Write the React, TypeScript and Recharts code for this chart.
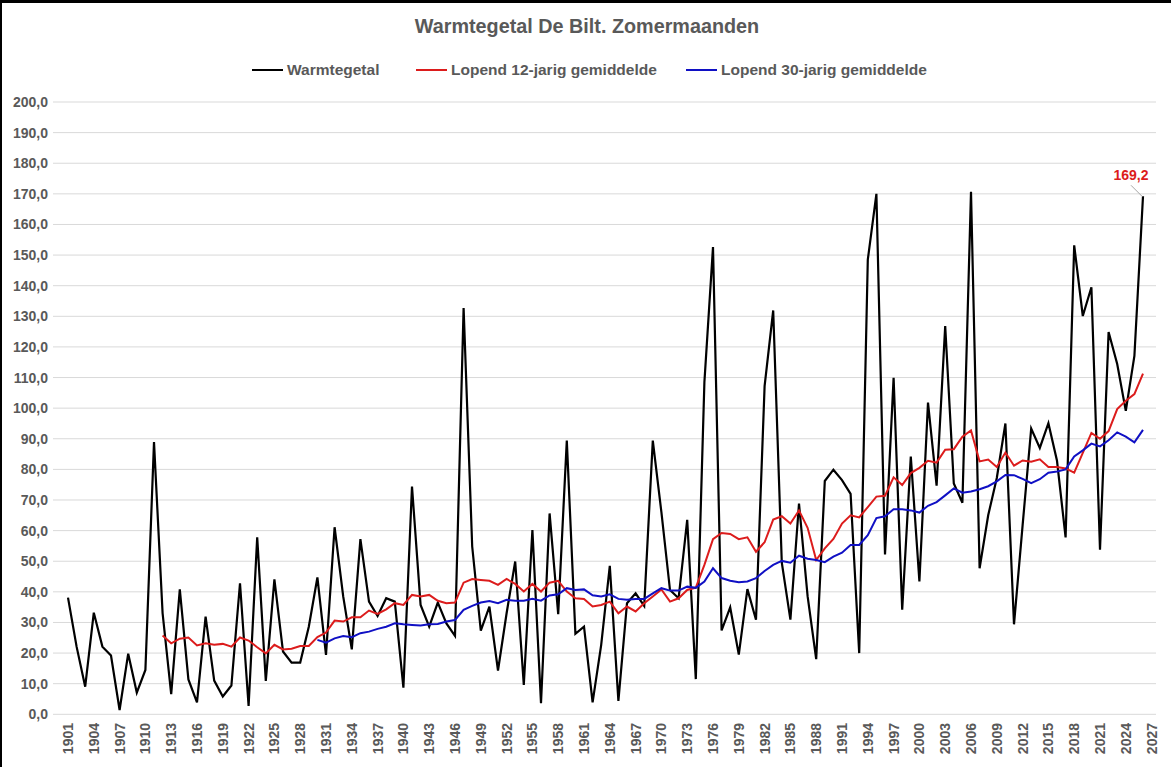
import React from 'react';
import { LineChart, Line, XAxis, YAxis, CartesianGrid, Legend, LabelList } from 'recharts';

const FONT = '"Liberation Sans", Arial, sans-serif';
const GREY = '#595959';
const BLACK = '#000000';
const RED = '#dc1c1c';
const BLUE = '#1010c4';

const FIRST_YEAR = 1901;
const LAST_YEAR = 2027;
const years: string[] = Array.from({ length: LAST_YEAR - FIRST_YEAR + 1 }, (_, i) => String(FIRST_YEAR + i));

// Warmtegetal 1901 - 2026
const warmtegetal: number[] = [
  38.1, 22.1, 9.0, 33.2, 22.1, 19.2, 1.4, 19.8, 7.1, 14.5,
  88.9, 33.0, 6.6, 40.8, 11.4, 3.9, 31.9, 11.0, 5.8, 9.4,
  42.8, 2.7, 57.8, 10.9, 44.1, 20.5, 16.9, 16.9, 28.6, 44.7,
  19.4, 61.1, 38.5, 21.2, 57.2, 36.8, 32.1, 37.9, 36.8, 8.7,
  74.4, 35.7, 28.6, 36.5, 29.7, 25.6, 132.7, 54.8, 27.3, 35.2,
  14.3, 33.0, 49.9, 9.6, 60.2, 3.6, 65.6, 32.7, 89.4, 26.3,
  28.6, 3.9, 22.7, 48.5, 4.4, 36.3, 39.5, 35.4, 89.4, 66.0,
  40.6, 37.9, 63.5, 11.5, 108.5, 152.6, 27.4, 34.9, 19.5, 40.9,
  30.9, 107.2, 131.9, 49.5, 30.9, 68.8, 38.6, 18.0, 76.2, 79.9,
  76.5, 72.0, 20.0, 148.5, 170.0, 52.2, 109.9, 34.2, 84.2, 43.4,
  101.8, 74.7, 126.8, 75.4, 69.1, 170.7, 47.7, 65.0, 77.2, 95.0,
  29.4, 61.7, 93.3, 87.0, 95.1, 82.8, 57.8, 153.2, 130.1, 139.5,
  53.8, 124.9, 114.4, 99.1, 117.1, 169.2,
];

// Lopend 12-jarig gemiddelde 1912 - 2026
const lopend12Start = 1912;
const lopend12: number[] = [
  25.7, 23.2, 24.7, 25.1, 22.5, 23.2, 22.7, 23.0, 22.1,
  25.1, 24.1, 21.9, 19.9, 22.7, 21.2, 21.4, 22.3, 22.3, 25.2,
  26.7, 30.6, 30.3, 31.7, 31.7, 33.9, 32.8, 34.3, 36.3, 35.7,
  39.0, 38.5, 39.0, 37.1, 36.3, 36.5, 43.0, 44.2, 43.9, 43.6,
  42.3, 44.2, 42.6, 40.1, 42.6, 40.1, 43.0, 43.6, 40.1, 37.9,
  37.7, 35.2, 35.7, 36.8, 33.0, 35.2, 33.6, 36.3, 38.5, 40.8,
  36.8, 37.9, 40.6, 41.4, 48.8, 57.2, 59.2, 58.9, 57.2, 57.8,
  53.1, 56.2, 63.6, 64.7, 62.3, 66.6, 60.9, 50.4, 54.2, 57.3,
  62.3, 65.0, 64.3, 67.7, 71.1, 71.4, 77.4, 74.9, 78.8, 80.5,
  82.8, 82.2, 86.4, 86.6, 90.7, 92.7, 82.6, 83.2, 80.8, 85.5,
  81.2, 82.9, 82.5, 83.3, 80.8, 80.8, 80.3, 78.9, 85.4, 91.9,
  90.0, 92.5, 99.7, 102.4, 104.6, 111.3,
];

// Lopend 30-jarig gemiddelde 1930 - 2026
const lopend30Start = 1930;
const lopend30: number[] = [
  24.3,
  23.4, 24.8, 25.6, 25.2, 26.5, 27.0, 27.9, 28.6, 29.7, 29.4,
  29.2, 29.0, 29.4, 29.5, 30.3, 30.8, 34.1, 35.4, 36.5, 37.0,
  36.3, 37.4, 37.1, 37.1, 37.7, 37.1, 38.8, 39.2, 41.2, 40.6,
  40.8, 38.9, 38.5, 39.2, 37.7, 37.4, 37.7, 37.7, 39.5, 41.2,
  40.4, 40.4, 41.7, 41.3, 43.4, 47.7, 44.5, 43.6, 43.1, 43.4,
  44.5, 46.8, 48.8, 50.1, 49.5, 51.8, 50.8, 50.4, 49.7, 51.5,
  52.8, 55.3, 55.3, 58.5, 64.1, 64.7, 67.0, 67.0, 66.6, 65.9,
  68.1, 69.3, 71.5, 73.8, 72.4, 72.8, 73.5, 74.5, 76.1, 78.2,
  78.1, 76.9, 75.5, 76.8, 78.9, 79.3, 80.0, 84.2, 86.2, 88.4,
  87.5, 89.5, 92.1, 90.7, 88.8, 92.9,
];

const yTicks: number[] = [0, 10, 20, 30, 40, 50, 60, 70, 80, 90, 100, 110, 120, 130, 140, 150, 160, 170, 180, 190, 200];

const legendItems = [
  { label: 'Warmtegetal', color: BLACK, left: 252 },
  { label: 'Lopend 12-jarig gemiddelde', color: RED, left: 416 },
  { label: 'Lopend 30-jarig gemiddelde', color: BLUE, left: 686 },
];

const pick = (arr: number[], start: number, yr: number) => {
  const k = yr - start;
  return k >= 0 && k < arr.length ? arr[k] : null;
};

const data = years.map((y) => {
  const yr = Number(y);
  return {
    year: y,
    w: pick(warmtegetal, FIRST_YEAR, yr),
    r12: pick(lopend12, lopend12Start, yr),
    r30: pick(lopend30, lopend30Start, yr),
  };
});

const fmt = (v: number) => v.toFixed(1).replace('.', ',');

const YTick = (props: any) => {
  const { y, payload } = props;
  return (
    <text x={48} y={y} dy={5} textAnchor="end" fill={GREY} fontSize={14} fontWeight={700} fontFamily={FONT}>
      {fmt(Number(payload.value))}
    </text>
  );
};

const XTick = (props: any) => {
  const { x, payload } = props;
  return (
    <text
      transform={`translate(${x},723) rotate(-90)`}
      textAnchor="end"
      dy="0.36em"
      fill={GREY}
      fontSize={14}
      fontWeight={700}
      fontFamily={FONT}
    >
      {payload.value}
    </text>
  );
};

const LastLabel = (props: any) => {
  const { x, y, index, value } = props;
  if (index !== warmtegetal.length - 1 || x == null || y == null) return null;
  return (
    <g>
      <line x1={x - 12} y1={y - 11} x2={x - 1} y2={y} stroke="#a6a6a6" strokeWidth={1} />
      <text x={x - 12} y={y - 16} textAnchor="middle" fill={RED} fontSize={14} fontWeight={700} fontFamily={FONT}>
        {fmt(Number(value))}
      </text>
    </g>
  );
};

const renderLegend = () => (
  <div style={{ position: 'relative', width: 1171, height: 22 }}>
    {legendItems.map((it) => (
      <div
        key={it.label}
        style={{
          position: 'absolute',
          left: it.left,
          top: 0,
          display: 'flex',
          alignItems: 'center',
          height: 22,
          whiteSpace: 'nowrap',
        }}
      >
        <span style={{ display: 'inline-block', width: 31, height: 2.5, background: it.color, marginRight: 4 }} />
        <span style={{ fontFamily: FONT, fontWeight: 700, fontSize: 15.5, color: GREY }}>{it.label}</span>
      </div>
    ))}
  </div>
);

export default function App() {
  return (
    <div style={{ position: 'fixed', left: 0, top: 0, width: 1171, height: 767, background: '#ffffff', overflow: 'hidden' }}>
      <div
        style={{
          position: 'absolute',
          left: 0,
          top: 15,
          width: 1171,
          textAlign: 'center',
          fontFamily: FONT,
          fontWeight: 700,
          fontSize: 19.8,
          color: GREY,
          paddingLeft: 3,
          boxSizing: 'border-box',
        }}
      >
        Warmtegetal De Bilt. Zomermaanden
      </div>
      <LineChart width={1171} height={767} data={data} margin={{ top: 102, right: 15, bottom: 0, left: 0 }}>
        <CartesianGrid horizontal vertical={false} stroke="#d9d9d9" strokeWidth={1} />
        <XAxis
          dataKey="year"
          scale="point"
          padding={{ left: 15, right: 4.4 }}
          interval={2}
          tick={<XTick />}
          tickLine={false}
          axisLine={false}
          height={52.7}
        />
        <YAxis
          domain={[0, 200]}
          ticks={yTicks}
          interval={0}
          tick={<YTick />}
          tickLine={false}
          axisLine={false}
          width={53}
        />
        <Legend
          layout="horizontal"
          verticalAlign="middle"
          align="center"
          content={renderLegend}
          wrapperStyle={{ top: 59, left: 0, width: 1171 }}
        />
        <Line type="linear" dataKey="w" name="Warmtegetal" stroke={BLACK} strokeWidth={2.2} dot={false} isAnimationActive={false}>
          <LabelList dataKey="w" content={<LastLabel />} />
        </Line>
        <Line type="linear" dataKey="r12" name="Lopend 12-jarig gemiddelde" stroke={RED} strokeWidth={2} dot={false} isAnimationActive={false} />
        <Line type="linear" dataKey="r30" name="Lopend 30-jarig gemiddelde" stroke={BLUE} strokeWidth={2} dot={false} isAnimationActive={false} />
      </LineChart>
      <div style={{ position: 'absolute', left: 0, top: 0, width: 1171, height: 3, background: '#000' }} />
      <div style={{ position: 'absolute', left: 0, top: 0, width: 2, height: 767, background: '#000' }} />
    </div>
  );
}
